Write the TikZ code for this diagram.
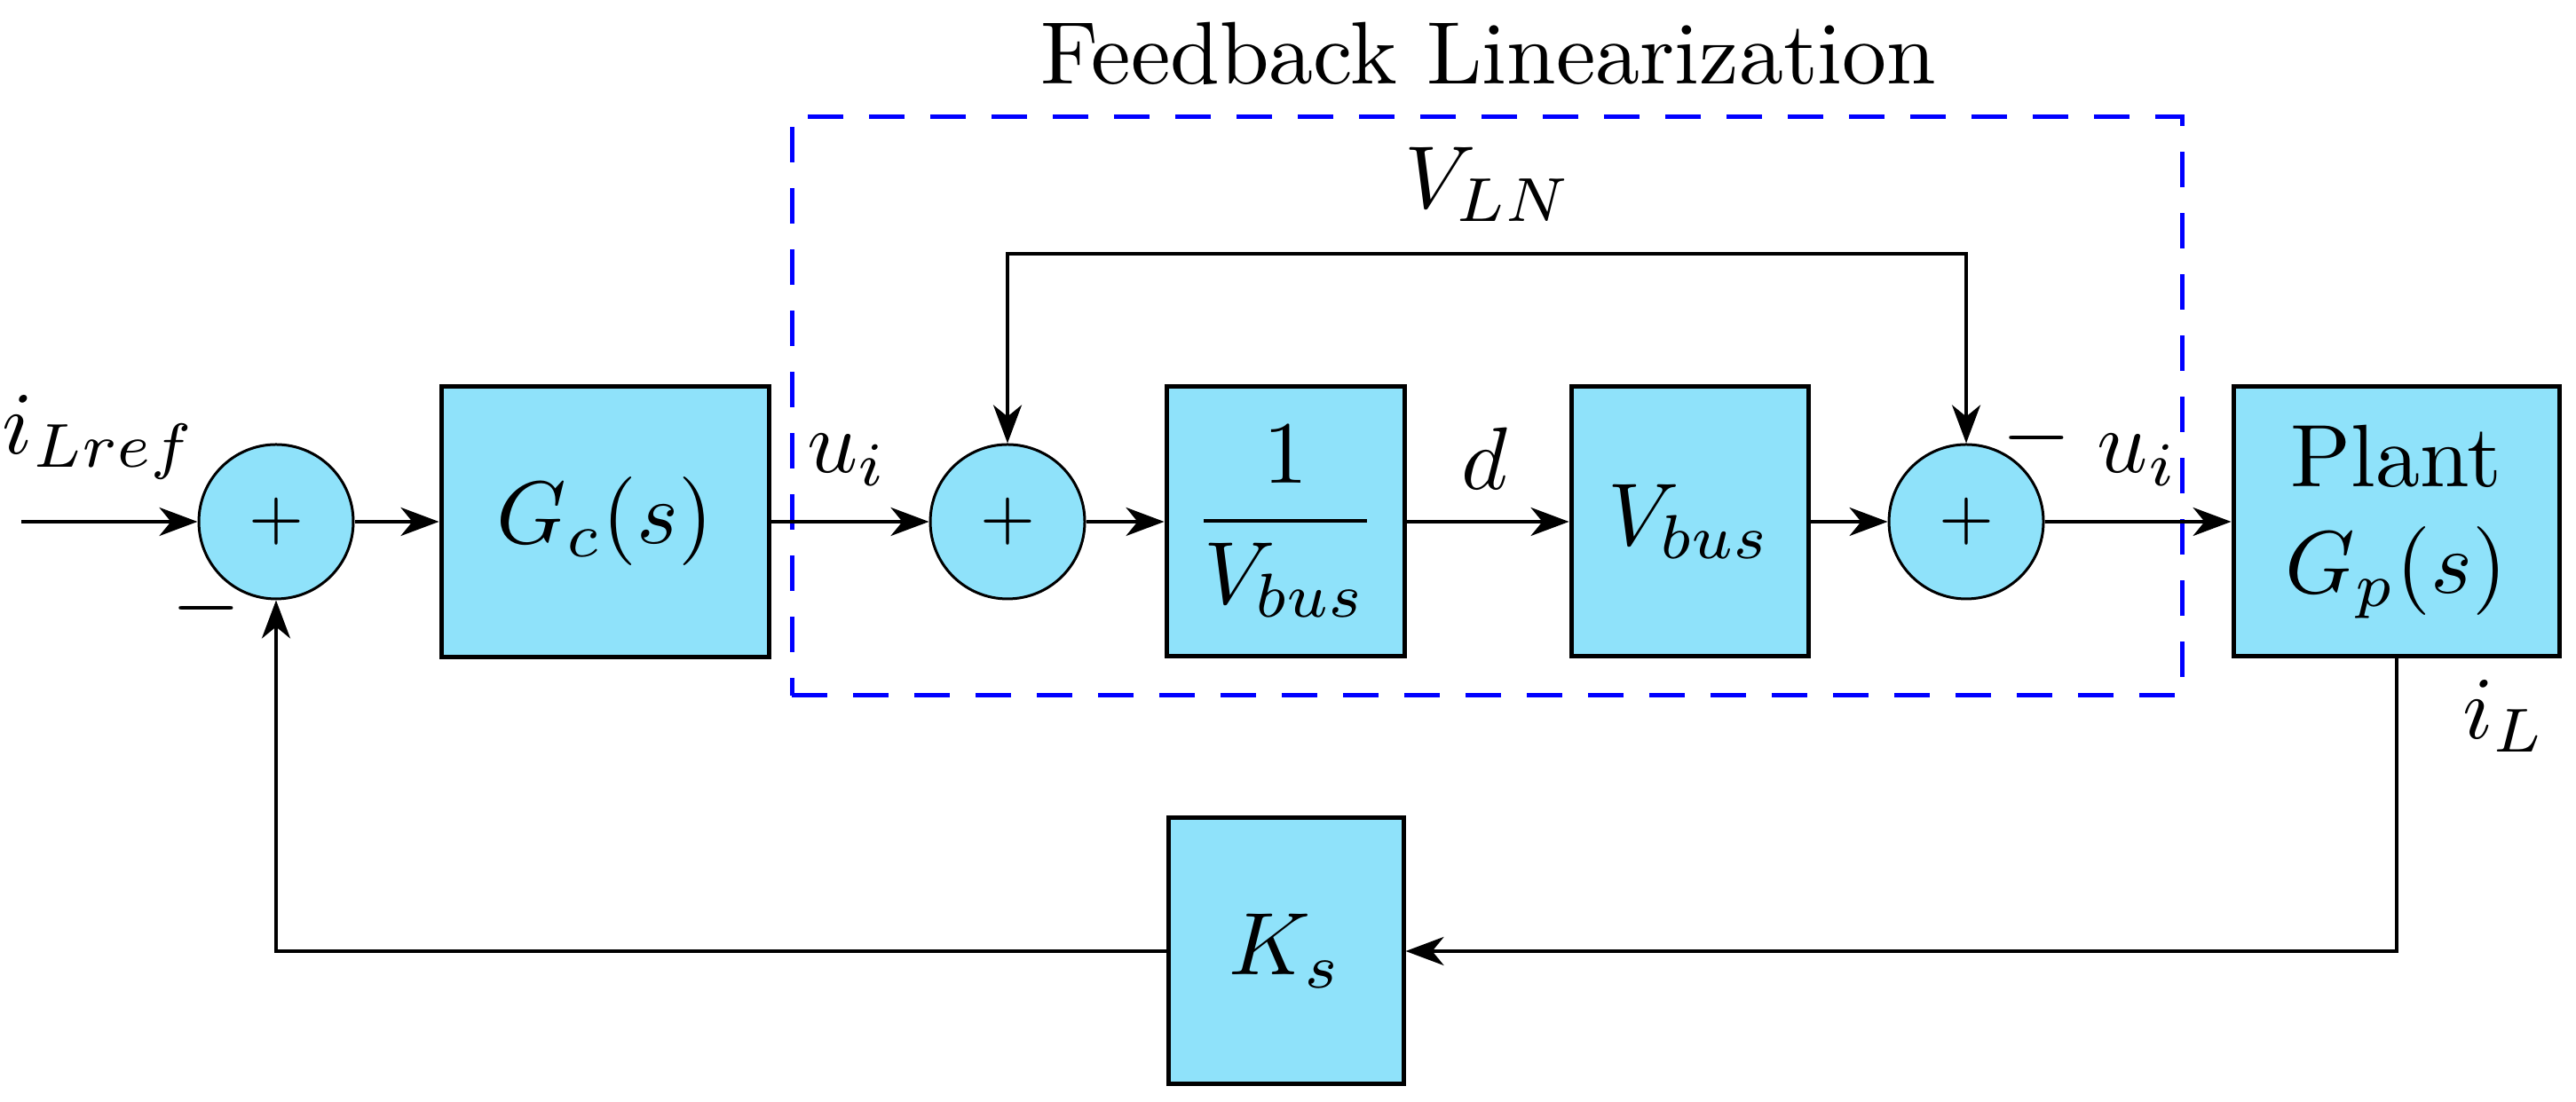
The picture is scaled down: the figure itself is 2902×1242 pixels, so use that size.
\documentclass[tikz,border=0pt]{standalone}
\usepackage{amsmath}
\usetikzlibrary{arrows.meta}
\definecolor{boxfill}{RGB}{143,226,250}
\definecolor{fbblue}{RGB}{0,0,255}
\begin{document}
\begin{tikzpicture}[x=0.1pt,y=-0.1pt,
  >={Stealth[length=4.3pt,width=3.2pt,inset=1.3pt]},
  blk/.style={draw, line width=0.5pt, fill=boxfill, inner sep=0pt},
  sumnode/.style={circle, draw, line width=0.3pt, fill=boxfill, minimum size=17.4pt, inner sep=0pt},
  conn/.style={line width=0.4pt},
  fbbox/.style={draw=fbblue, line width=0.5pt, dash pattern=on 4pt off 2.9pt, inner sep=0pt}]
\useasboundingbox (0,0) rectangle (2902,1242);

% dashed feedback-linearization frame
\node[fbbox, minimum width=156.6pt, minimum height=65.2pt] (fl) at (1675,458) {};
\node[anchor=base] (title) at (1677,95) {Feedback Linearization};

% blocks
\node[sumnode] (s1) at (311,588) {\fontsize{7.5}{9}\selectfont +};
\node[blk, minimum width=36.9pt, minimum height=30.5pt] (gc) at (681.5,588) {$G_c(s)$};
\node[sumnode] (s2) at (1135,588) {\fontsize{7.5}{9}\selectfont +};
\node[blk, minimum width=26.8pt, minimum height=30.4pt] (inv) at (1448,588) {$\dfrac{1}{V_{bus}}$};
\node[blk, minimum width=26.7pt, minimum height=30.4pt] (vb) at (1903.5,588) {$V_{bus}$};
\node[sumnode] (s3) at (2215,588) {\fontsize{7.5}{9}\selectfont +};
\node[blk, minimum width=36.7pt, minimum height=30.4pt, align=center] (pl) at (2699.5,588) {Plant\\$G_p(s)$};
\node[blk, minimum width=26.5pt, minimum height=30pt] (ks) at (1448.5,1072) {$K_s$};

% connectors
\coordinate (in) at (24,588);
\draw[conn,->] (in) -- (s1);
\draw[conn,->] (s1) -- (gc);
\draw[conn,->] (gc) -- (s2);
\draw[conn,->] (s2) -- (inv);
\draw[conn,->] (inv) -- (vb);
\draw[conn,->] (vb) -- (s3);
\draw[conn,->] (s3) -- (pl);
\draw[conn,<->] (s2.north) -- ++(0,-213) -| (s3.north);
\draw[conn,->] (pl.south) |- (ks.east);
\draw[conn,->] (ks.west) -| (s1.south);

% labels
\node[anchor=base, inner sep=0pt] (lref) at (112,512) {$i_{Lref}$};
\node[anchor=base] (lu1) at (955,533) {$u_i$};
\node[anchor=base] (ld) at (1672,552) {$d$};
\node[anchor=base] (lu2) at (2408,533) {$u_i$};
\node (lvln) at (1677,208) {$V_{LN}$};
\node[anchor=base west] (lil) at (2739,833) {$i_L$};
\node (m1) at (232,686) {$-$};
\node (m2) at (2294,494) {$-$};
\end{tikzpicture}
\end{document}
